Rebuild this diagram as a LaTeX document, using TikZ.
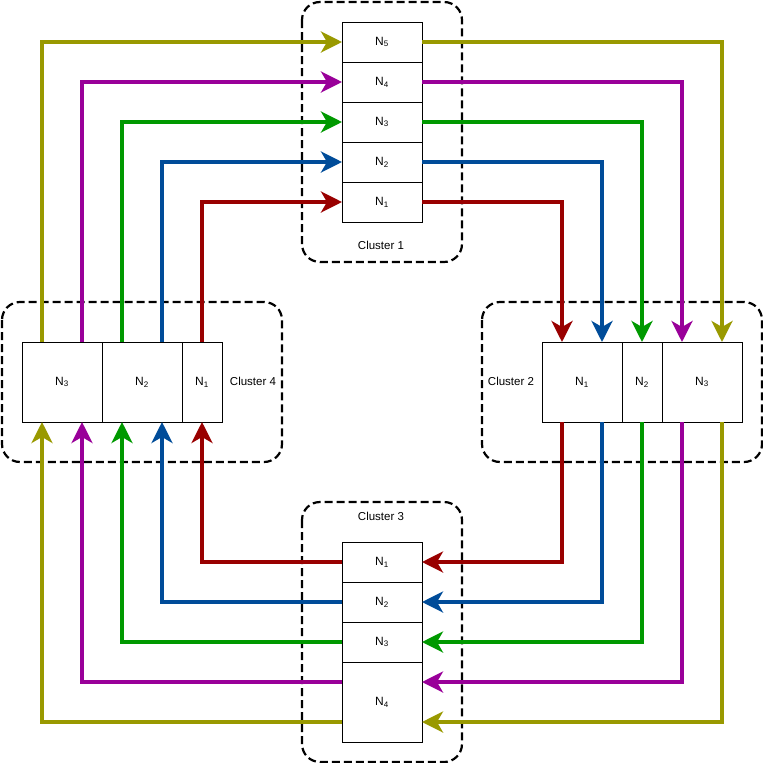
\documentclass[tikz,border=0pt]{standalone}
\usepackage{fontspec}
\setmainfont{Liberation Sans}
\usepackage{xcolor}
\usepackage{tikz}
\usetikzlibrary{positioning,arrows.meta}
\definecolor{lkred}{HTML}{990000}
\definecolor{lkblue}{HTML}{004C99}
\definecolor{lkgreen}{HTML}{009900}
\definecolor{lkpurple}{HTML}{990099}
\definecolor{lkolive}{HTML}{999900}

\begin{document}
\begin{tikzpicture}[x=1pt,y=-1pt,>={Stealth[length=21pt,width=21pt,inset=6pt]},
  cbox/.style={draw,fill=white,line width=1pt,inner sep=0pt,outer sep=0pt,font=\fontsize{12}{14}\selectfont},
  cluster/.style={draw,line width=2.2pt,dash pattern=on 8pt off 4pt,rounded corners=18pt},
  ctext/.style={font=\fontsize{11.5}{14}\selectfont},
  link/.style={->,line width=3.8pt}]
  \useasboundingbox (0,0) rectangle (763,763);
  \draw[cluster] (302,2) rectangle (462,262);
  \draw[cluster] (2,302) rectangle (282,462);
  \draw[cluster] (482,302) rectangle (762,462);
  \draw[cluster] (302,502) rectangle (462,762);
  \node[ctext] (cl1) at (381,245) {Cluster 1};
  \node[ctext] (cl4) at (253,381) {Cluster 4};
  \node[ctext] (cl2) at (511,381) {Cluster 2};
  \node[ctext] (cl3) at (381,516) {Cluster 3};
  % cluster 1
  \node[cbox,minimum width=80pt,minimum height=40pt] (c1n5) at (382,42) {N\textsubscript{5}};
  \node[cbox,minimum width=80pt,minimum height=40pt,below=0pt of c1n5] (c1n4) {N\textsubscript{4}};
  \node[cbox,minimum width=80pt,minimum height=40pt,below=0pt of c1n4] (c1n3) {N\textsubscript{3}};
  \node[cbox,minimum width=80pt,minimum height=40pt,below=0pt of c1n3] (c1n2) {N\textsubscript{2}};
  \node[cbox,minimum width=80pt,minimum height=40pt,below=0pt of c1n2] (c1n1) {N\textsubscript{1}};
  % cluster 4
  \node[cbox,minimum width=80pt,minimum height=80pt] (c4n3) at (62,382) {N\textsubscript{3}};
  \node[cbox,minimum width=80pt,minimum height=80pt,right=0pt of c4n3] (c4n2) {N\textsubscript{2}};
  \node[cbox,minimum width=40pt,minimum height=80pt,right=0pt of c4n2] (c4n1) {N\textsubscript{1}};
  % cluster 2
  \node[cbox,minimum width=80pt,minimum height=80pt] (c2n1) at (582,382) {N\textsubscript{1}};
  \node[cbox,minimum width=40pt,minimum height=80pt,right=0pt of c2n1] (c2n2) {N\textsubscript{2}};
  \node[cbox,minimum width=80pt,minimum height=80pt,right=0pt of c2n2] (c2n3) {N\textsubscript{3}};
  % cluster 3
  \node[cbox,minimum width=80pt,minimum height=40pt] (c3n1) at (382,562) {N\textsubscript{1}};
  \node[cbox,minimum width=80pt,minimum height=40pt,below=0pt of c3n1] (c3n2) {N\textsubscript{2}};
  \node[cbox,minimum width=80pt,minimum height=40pt,below=0pt of c3n2] (c3n3) {N\textsubscript{3}};
  \node[cbox,minimum width=80pt,minimum height=80pt,below=0pt of c3n3] (c3n4) {N\textsubscript{4}};
  % 4 -> 1
  \draw[link,lkolive] ([xshift=20pt]c4n3.north west) |- (c1n5.west);
  \draw[link,lkpurple] ([xshift=60pt]c4n3.north west) |- (c1n4.west);
  \draw[link,lkgreen] ([xshift=20pt]c4n2.north west) |- (c1n3.west);
  \draw[link,lkblue] ([xshift=60pt]c4n2.north west) |- (c1n2.west);
  \draw[link,lkred] (c4n1.north) |- (c1n1.west);
  % 1 -> 2
  \draw[link,lkolive] (c1n5.east) -| ([xshift=60pt]c2n3.north west);
  \draw[link,lkpurple] (c1n4.east) -| ([xshift=20pt]c2n3.north west);
  \draw[link,lkgreen] (c1n3.east) -| (c2n2.north);
  \draw[link,lkblue] (c1n2.east) -| ([xshift=60pt]c2n1.north west);
  \draw[link,lkred] (c1n1.east) -| ([xshift=20pt]c2n1.north west);
  % 2 -> 3
  \draw[link,lkolive] ([xshift=60pt]c2n3.south west) |- ([yshift=20pt]c3n4.south east);
  \draw[link,lkpurple] ([xshift=20pt]c2n3.south west) |- ([yshift=-20pt]c3n4.north east);
  \draw[link,lkgreen] (c2n2.south) |- (c3n3.east);
  \draw[link,lkblue] ([xshift=60pt]c2n1.south west) |- (c3n2.east);
  \draw[link,lkred] ([xshift=20pt]c2n1.south west) |- (c3n1.east);
  % 3 -> 4
  \draw[link,lkolive] ([yshift=20pt]c3n4.south west) -| ([xshift=20pt]c4n3.south west);
  \draw[link,lkpurple] ([yshift=-20pt]c3n4.north west) -| ([xshift=60pt]c4n3.south west);
  \draw[link,lkgreen] (c3n3.west) -| ([xshift=20pt]c4n2.south west);
  \draw[link,lkblue] (c3n2.west) -| ([xshift=60pt]c4n2.south west);
  \draw[link,lkred] (c3n1.west) -| (c4n1.south);
\end{tikzpicture}
\end{document}
